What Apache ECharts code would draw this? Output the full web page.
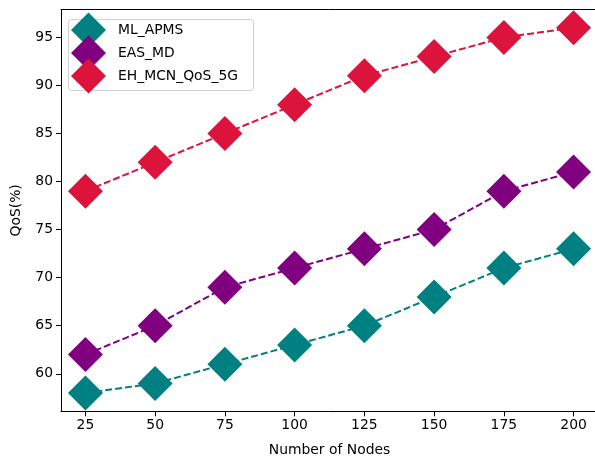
<!DOCTYPE html>
<html><head><meta charset="utf-8">
<script src="https://cdn.jsdelivr.net/npm/echarts@6/dist/echarts.min.js"></script>
<style>html,body{margin:0;padding:0;background:#fff;overflow:hidden}#c{width:595px;height:458px}</style>
</head><body><div id="c"></div>
<script>
const nodes = [25, 50, 75, 100, 125, 150, 175, 200];
const mlApms = [58, 59, 61, 63, 65, 68, 71, 73];
const easMd = [62, 65, 69, 71, 73, 75, 79, 81];
const ehMcn = [79, 82, 85, 88, 91, 93, 95, 96];
const xTicks = [25, 50, 75, 100, 125, 150, 175, 200];
const yTicks = [60, 65, 70, 75, 80, 85, 90, 95];
const seriesNames = ['ML_APMS', 'EAS_MD', 'EH_MCN_QoS_5G'];
const colors = ['#008080', '#800080', '#DC143C'];

const font = 'DejaVu Sans';
const chart = echarts.init(document.getElementById('c'), null, {renderer: 'canvas'});
const mk = (name, vals, color, z) => ({
  name, type: 'line', z,
  data: nodes.map((n, i) => [n, vals[i]]),
  symbol: 'diamond', symbolSize: 35,
  itemStyle: {color, opacity: 1},
  lineStyle: {color, width: 2, type: [7, 3]},
  emphasis: {disabled: true},
  animation: false
});
chart.setOption({
  animation: false,
  grid: {left: 61, top: 9.5, width: 537, height: 401.8, outerBoundsMode: 'none', containLabel: false, show: false},
  xAxis: [{
    type: 'value', min: 16.25, max: 208.75,
    name: 'Number of Nodes', nameLocation: 'middle', nameGap: 32,
    nameTextStyle: {fontFamily: font, fontSize: 13.9, color: '#000'},
    axisLine: {show: true, onZero: false, lineStyle: {color: '#000', width: 1}},
    axisTick: {show: true, customValues: xTicks, length: 5, lineStyle: {color: '#000'}},
    axisLabel: {customValues: xTicks, fontFamily: font, fontSize: 13.9, color: '#000', margin: 7},
    splitLine: {show: false}
  }, {
    type: 'value', position: 'top', min: 16.25, max: 208.75,
    axisLine: {show: true, onZero: false, lineStyle: {color: '#000', width: 1}},
    axisTick: {show: false}, axisLabel: {show: false}, splitLine: {show: false}
  }],
  yAxis: {
    type: 'value', min: 56.1, max: 97.9,
    name: 'QoS(%)', nameLocation: 'middle', nameGap: 38, nameRotate: 90,
    nameTextStyle: {fontFamily: font, fontSize: 13.9, color: '#000'},
    axisLine: {show: true, onZero: false, lineStyle: {color: '#000', width: 1}},
    axisTick: {show: true, customValues: yTicks, length: 5, lineStyle: {color: '#000'}},
    axisLabel: {customValues: yTicks, fontFamily: font, fontSize: 13.9, color: '#000', margin: 8},
    splitLine: {show: false}
  },
  graphic: [{
    type: 'rect', z: 90, left: 68, top: 19,
    shape: {width: 185, height: 71, r: 3},
    style: {fill: 'rgba(255,255,255,0.8)', stroke: '#d0d0d0', lineWidth: 1}
  }],
  legend: {
    z: 100, orient: 'vertical', left: 71, top: 12.5,
    padding: 0, itemGap: -12, itemWidth: 35, itemHeight: 35,
    icon: 'diamond', selectedMode: false,
    data: seriesNames.map((n, i) => ({name: n, itemStyle: {color: colors[i]}})),
    textStyle: {fontFamily: font, fontSize: 13.9, color: '#000', padding: [0, 0, 0, 7]}
  },
  series: [
    mk(seriesNames[0], mlApms, colors[0], 2),
    mk(seriesNames[1], easMd, colors[1], 3),
    mk(seriesNames[2], ehMcn, colors[2], 4)
  ]
});
</script></body></html>
